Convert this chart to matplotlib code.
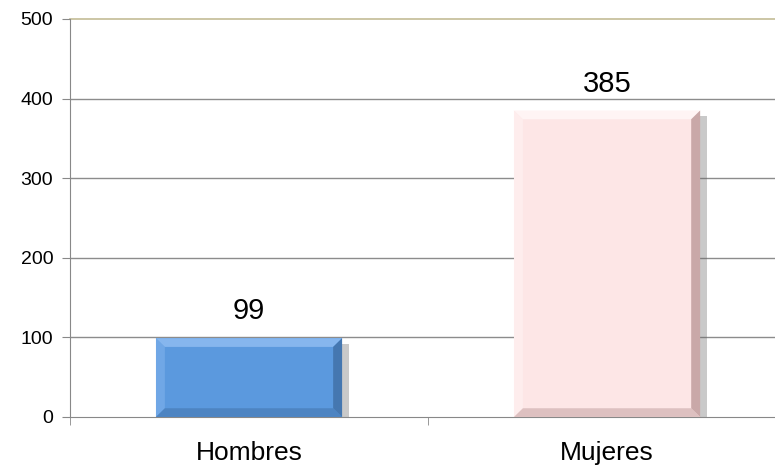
import matplotlib
matplotlib.use('Agg')
import matplotlib.pyplot as plt
import matplotlib.patheffects as pe
from matplotlib.patches import Polygon
import numpy as np

categories = ['Hombres', 'Mujeres']
values = [99, 385]
face_colors = ['#5b99de', '#fde6e6']
light_colors = ['#86b6ee', '#fff4f4']
dark_colors = ['#4577b0', '#c9a8a8']

plt.rcParams['font.family'] = ['Liberation Sans', 'DejaVu Sans']

fig = plt.figure(figsize=(7.75, 4.74), dpi=100)
ax = fig.add_axes([0.0903, 0.1203, 0.924, 0.8397])

x = np.arange(len(categories))
width = 0.52
bars = ax.bar(x, values, width=width, color=face_colors, zorder=3,
              edgecolor='none')
for b in bars:
    b.set_path_effects([pe.SimplePatchShadow(offset=(5, -4), shadow_rgbFace='#666666', alpha=0.35),
                        pe.Normal()])

# bevel edges
bx, by = 0.025, 11
for i, b in enumerate(bars):
    x0, x1 = b.get_x(), b.get_x() + b.get_width()
    h = b.get_height()
    top = Polygon([(x0, h), (x1, h), (x1 - bx, h - by), (x0 + bx, h - by)],
                  closed=True, color=light_colors[i], zorder=4, lw=0)
    left = Polygon([(x0, 0), (x0, h), (x0 + bx, h - by), (x0 + bx, by)],
                   closed=True, color=light_colors[i], alpha=0.5, zorder=4, lw=0)
    right = Polygon([(x1, 0), (x1, h), (x1 - bx, h - by), (x1 - bx, by)],
                    closed=True, color=dark_colors[i], zorder=4, lw=0)
    bottom = Polygon([(x0, 0), (x1, 0), (x1 - bx, by), (x0 + bx, by)],
                     closed=True, color=dark_colors[i], alpha=0.6, zorder=4, lw=0)
    for p in (top, left, right, bottom):
        ax.add_patch(p)
    ax.text(b.get_x() + b.get_width() / 2, h + 16, str(values[i]),
            ha='center', va='bottom', fontsize=21, color='black', zorder=5)

ax.set_xlim(-0.5, 1.5)
ax.set_ylim(0, 500)
ax.set_yticks([0, 100, 200, 300, 400, 500])
ax.set_xticks(x)
ax.set_xticklabels(categories, fontsize=19)
ax.set_xticks([-0.5, 0.5, 1.5], minor=True)
ax.tick_params(axis='x', which='major', length=0, pad=17)
ax.tick_params(axis='x', which='minor', length=6, color='#888888')
ax.tick_params(axis='y', labelsize=14, length=6, color='#888888', pad=6)

for yv in [100, 200, 300, 400]:
    ax.axhline(yv, color='#8c8c8c', lw=1, zorder=1)
ax.axhline(500, color='#c4bc96', lw=1.2, zorder=1, clip_on=False)

for s in ['top', 'right']:
    ax.spines[s].set_visible(False)
ax.spines['left'].set_color('#888888')
ax.spines['bottom'].set_color('#888888')

fig.savefig('out.png', dpi=100)
